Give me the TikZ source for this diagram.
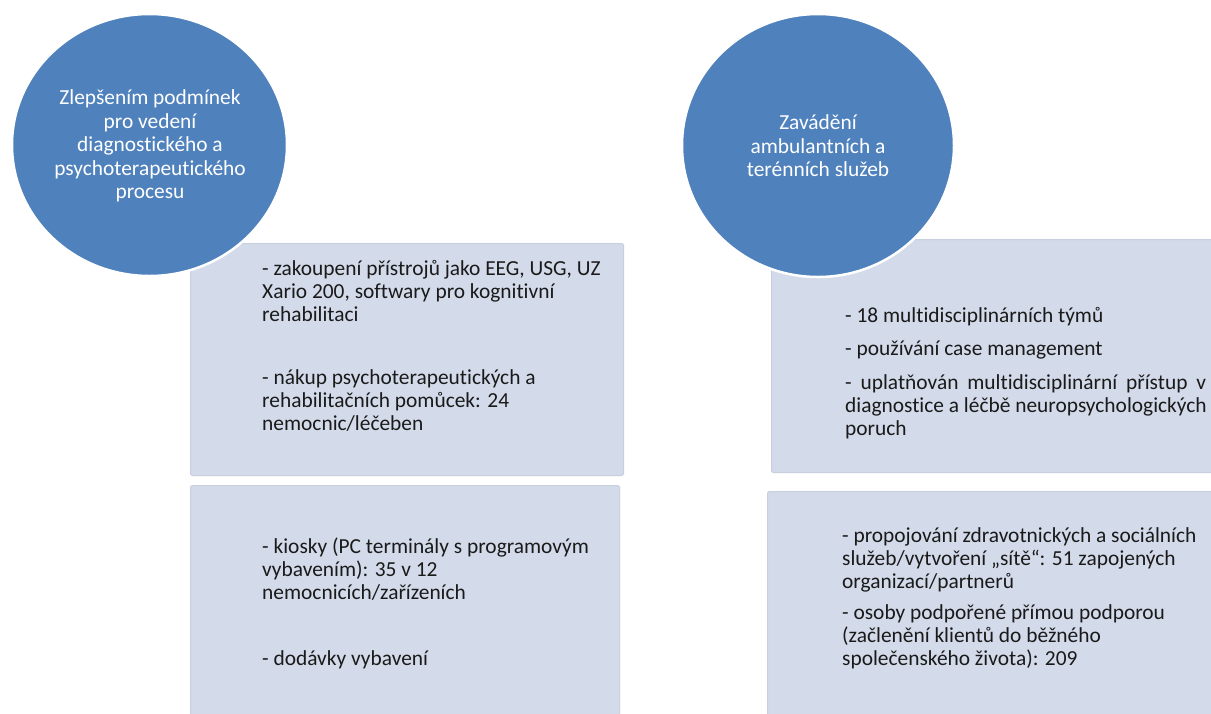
\documentclass[tikz,border=0pt]{standalone}
\usepackage{fontspec}
\setmainfont{Carlito}[Ligatures=NoCommon]
\usetikzlibrary{shapes.geometric}
\definecolor{circfill}{HTML}{4F81BD}
\definecolor{boxfill}{HTML}{D3DAE9}
\definecolor{boxedge}{HTML}{C8CFDF}
\definecolor{txt}{HTML}{1A1A1A}
\tikzset{
  panel/.style={fill=boxfill, draw=boxedge, line width=1pt, rounded corners=1.5pt},
  topic/.style={ellipse, fill=circfill, draw=white, line width=2.5pt, inner sep=0pt},
  ctext/.style={text=white, align=center, font=\fontsize{21.4}{23.5}\selectfont, inner sep=0pt},
  btext/.style={text=txt, align=left, font=\fontsize{21.4}{23}\selectfont, inner sep=0pt, anchor=base west},
}
\begin{document}
\begin{tikzpicture}[x=1pt,y=-1pt]
\useasboundingbox (0,0) rectangle (1211,713);
\clip (0,0) rectangle (1211,713);
\fill[white] (0,0) rectangle (1211,713);
% panels
\node[panel, minimum width=433pt, minimum height=232pt, anchor=north west] (tl) at (190,243) {};
\node[panel, minimum width=429pt, minimum height=245pt, anchor=north west] (bl) at (190,485) {};
\node[panel, minimum width=460pt, minimum height=233pt, anchor=north west] (tr) at (771,239) {};
\node[panel, minimum width=464pt, minimum height=240pt, anchor=north west] (br) at (767,491) {};
% circles
\node[topic, minimum width=275pt, minimum height=262pt] (c1) at (149.5,145) {};
\node[topic, minimum width=272pt, minimum height=263pt] (c2) at (818,145.5) {};
\node[ctext] (c1t) at (150,146) {Zlepšením podmínek\\pro vedení\\diagnostického a\\psychoterapeutického\\procesu};
\node[ctext] (c2t) at (818,146) {Zavádění\\ambulantních a\\terénních služeb};
% panel texts (anchored at the baseline of their last line)
\node[btext] (tl1) at (262,321) {- zakoupení přístrojů jako EEG, USG, UZ\\Xario 200, softwary pro kognitivní\\rehabilitaci};
\node[btext] (tl2) at (262,430) {- nákup psychoterapeutických a\\rehabilitačních pomůcek: 24\\nemocnic/léčeben};
\node[btext] (bl1) at (262,599) {- kiosky (PC terminály s programovým\\vybavením): 35 v 12\\nemocnicích/zařízeních};
\node[btext] (bl2) at (262,665) {- dodávky vybavení};
\node[btext] (tr1) at (845,322) {- 18 multidisciplinárních týmů};
\node[btext] (tr2) at (845,355) {- používání case management};
\node[btext] (tr3) at (845,435) {\makebox[361pt][s]{- uplatňován multidisciplinární přístup v}\\diagnostice a léčbě neuropsychologických\\poruch};
\node[btext] (br1) at (842,588) {- propojování zdravotnických a sociálních\\služeb/vytvoření „sítě“: 51 zapojených\\organizací/partnerů};
\node[btext] (br2) at (842,665) {- osoby podpořené přímou podporou\\(začlenění klientů do běžného\\společenského života): 209};
\end{tikzpicture}
\end{document}
